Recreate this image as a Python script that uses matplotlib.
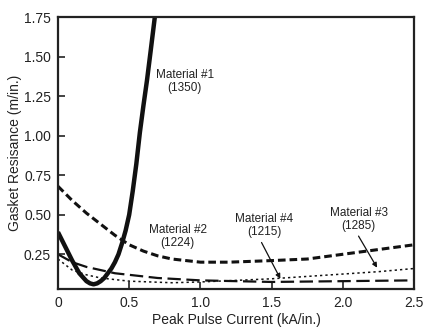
import matplotlib
matplotlib.use('Agg')
import matplotlib.pyplot as plt

plt.rcParams['font.family'] = ['Liberation Sans Narrow', 'Liberation Sans', 'DejaVu Sans']

# Material #1 (1350) - heavy solid
x1 = [0, 0.05, 0.1, 0.15, 0.2, 0.225, 0.25, 0.275, 0.3, 0.325, 0.35, 0.375, 0.4, 0.425, 0.45,
      0.475, 0.5, 0.525, 0.55, 0.575, 0.6, 0.625, 0.65, 0.68]
y1 = [0.39, 0.30, 0.21, 0.13, 0.08, 0.066, 0.06, 0.066, 0.08, 0.10, 0.13, 0.16, 0.20, 0.25, 0.32,
      0.40, 0.50, 0.65, 0.82, 1.02, 1.19, 1.35, 1.53, 1.75]

# Material #2 (1224) - heavy short dash
x2 = [0, 0.1, 0.2, 0.3, 0.4, 0.5, 0.6, 0.7, 0.8, 1.0, 1.2, 1.5, 1.75, 2.0, 2.25, 2.5]
y2 = [0.68, 0.59, 0.51, 0.44, 0.37, 0.31, 0.27, 0.24, 0.22, 0.20, 0.20, 0.21, 0.22, 0.25, 0.28, 0.31]

# Material #4 (1215) - long dash
x4 = [0, 0.1, 0.2, 0.3, 0.4, 0.5, 0.7, 1.0, 1.5, 2.0, 2.5]
y4 = [0.25, 0.20, 0.17, 0.15, 0.13, 0.12, 0.10, 0.085, 0.075, 0.08, 0.085]

# Material #3 (1285) - dotted
x3 = [0, 0.1, 0.2, 0.3, 0.5, 0.8, 1.0, 1.25, 1.5, 1.75, 2.0, 2.25, 2.5]
y3 = [0.22, 0.15, 0.12, 0.10, 0.08, 0.07, 0.075, 0.085, 0.095, 0.11, 0.125, 0.14, 0.16]

xticks = [0, 0.5, 1.0, 1.5, 2.0, 2.5]
xticklabels = ['0', '0.5', '1.0', '1.5', '2.0', '2.5']
yticks = [0.25, 0.5, 0.75, 1.0, 1.25, 1.5, 1.75]
yticklabels = ['0.25', '0.50', '0.75', '1.00', '1.25', '1.50', '1.75']

fig = plt.figure(figsize=(4.23, 3.27), dpi=100)
ax = fig.add_axes([0.137, 0.116, 0.842, 0.832])

ax.plot(x1, y1, color='#111', lw=3.2, solid_capstyle='butt', solid_joinstyle='round')
ax.plot(x2, y2, color='#111', lw=2.2, dashes=(2.5, 1.3))
ax.plot(x4, y4, color='#111', lw=1.6, dashes=(6, 2.5))
ax.plot(x3, y3, color='#111', lw=1.1, dashes=(1.5, 2))

ax.set_xlim(0, 2.5)
ax.set_ylim(0.03, 1.75)
ax.set_xticks(xticks)
ax.set_xticklabels(xticklabels)
ax.set_yticks(yticks)
ax.set_yticklabels(yticklabels)
ax.tick_params(direction='in', length=5, width=1.2, labelsize=10, colors='#222', pad=5)
for s in ax.spines.values():
    s.set_linewidth(1.6)
    s.set_color('#222')

ax.set_xlabel('Peak Pulse Current (kA/in.)', fontsize=10, color='#222', labelpad=2)
ax.set_ylabel('Gasket Resisance (m/in.)', fontsize=10, color='#222', labelpad=1)

tk = dict(fontsize=8.5, color='#222', ha='center', va='center', linespacing=1.1)
ax.text(0.89, 1.34, 'Material #1\n(1350)', **tk)
ax.text(0.84, 0.36, 'Material #2\n(1224)', **tk)
ax.text(1.45, 0.43, 'Material #4\n(1215)', **tk)
ax.text(2.11, 0.47, 'Material #3\n(1285)', **tk)

ap = dict(arrowstyle='-|>', color='#111', lw=0.9, mutation_scale=7)
ax.annotate('', xy=(1.57, 0.08), xytext=(1.42, 0.34), arrowprops=ap)
ax.annotate('', xy=(2.25, 0.15), xytext=(2.10, 0.38), arrowprops=ap)

fig.savefig('out.png', dpi=100)
